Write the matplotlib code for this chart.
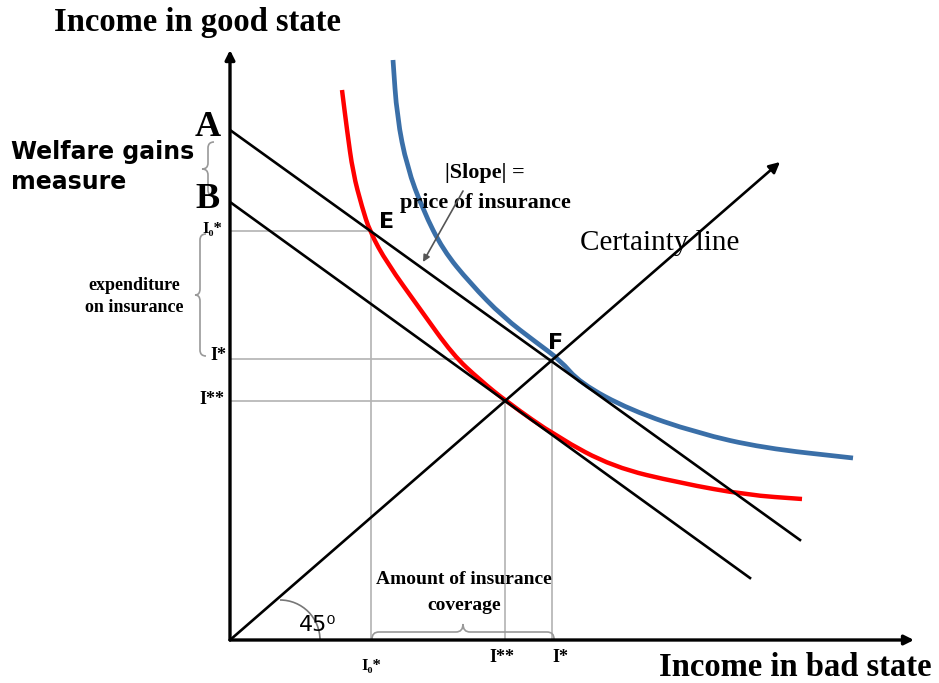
import numpy as np
import matplotlib
matplotlib.use("Agg")
import matplotlib.pyplot as plt
from matplotlib.path import Path
from matplotlib.patches import PathPatch, Arc

# ---- data (income in bad state x, income in good state y) ----
budget_A_x = [0, 570]
budget_A_y = [510, 100]
budget_B_x = [0, 520]
budget_B_y = [438, 62]
certainty_x = [0, 550]
certainty_y = [0, 478]

red_x = [112, 117, 123, 132, 140, 157, 190, 223, 250, 277, 327, 383, 450, 517, 572]
red_y = [550, 510, 467, 433, 408, 377, 331, 285, 260, 238, 203, 173, 157, 145, 141]
blue_x = [163, 167, 177, 193, 213, 240, 273, 307, 330, 350, 400, 467, 533, 623]
blue_y = [580, 523, 473, 430, 390, 357, 323, 297, 280, 257, 230, 207, 192, 182]

point_E = (141, 409)
point_F = (322, 281)
point_G = (275, 239)

xtick_labels = ["I\u2080*", "I**", "I*"]
ytick_labels = ["I\u2080*", "I*", "I**"]

SERIF = "Liberation Serif"
SANS = "DejaVu Sans"

fig = plt.figure(figsize=(9.39, 6.83), dpi=100)
ax = fig.add_axes([230 / 939, 43 / 683, 700 / 939, 600 / 683])
ax.set_xlim(0, 700)
ax.set_ylim(0, 600)
ax.axis("off")


def smooth_line(xs, ys, color, lw):
    pts = list(zip(xs, ys))
    verts = [pts[0]]
    codes = [Path.MOVETO]
    m = ((pts[0][0] + pts[1][0]) / 2, (pts[0][1] + pts[1][1]) / 2)
    verts.append(m)
    codes.append(Path.LINETO)
    for i in range(1, len(pts) - 1):
        m = ((pts[i][0] + pts[i + 1][0]) / 2, (pts[i][1] + pts[i + 1][1]) / 2)
        verts += [pts[i], m]
        codes += [Path.CURVE3, Path.CURVE3]
    verts.append(pts[-1])
    codes.append(Path.LINETO)
    ax.add_patch(PathPatch(Path(verts, codes), fill=False, edgecolor=color, lw=lw,
                           capstyle="butt", zorder=2))


grey = "#b3b3b3"
# grey guide lines
for (px, py) in [point_E, point_F, point_G]:
    ax.plot([0, px], [py, py], color=grey, lw=1.2, zorder=1)
    ax.plot([px, px], [0, py], color=grey, lw=1.2, zorder=1)

# indifference curves
smooth_line(red_x, red_y, "#ff0000", 3.2)
smooth_line(blue_x, blue_y, "#3a6fa8", 3.4)

# budget lines
ax.plot(budget_A_x, budget_A_y, color="black", lw=1.9, zorder=3)
ax.plot(budget_B_x, budget_B_y, color="black", lw=1.9, zorder=3)

# certainty line with arrow
ax.annotate("", xy=(certainty_x[1], certainty_y[1]), xytext=(certainty_x[0], certainty_y[0]),
            arrowprops=dict(arrowstyle="-|>", lw=1.9, color="black", mutation_scale=16,
                            shrinkA=0, shrinkB=0), zorder=3)

# axes arrows
ax.annotate("", xy=(0, 590), xytext=(0, 0), annotation_clip=False,
            arrowprops=dict(arrowstyle="-|>", lw=2.4, color="black", mutation_scale=14,
                            shrinkA=0, shrinkB=0))
ax.annotate("", xy=(684, 0), xytext=(0, 0), annotation_clip=False,
            arrowprops=dict(arrowstyle="-|>", lw=2.4, color="black", mutation_scale=14,
                            shrinkA=0, shrinkB=0))


def brace(p0, p1, normal, c, d, color="#999999", lw=1.2):
    p0 = np.array(p0, float)
    p1 = np.array(p1, float)
    L = np.linalg.norm(p1 - p0)
    u = (p1 - p0) / L
    n = np.array(normal, float)
    loc = [(0, 0), (0, c), (c, c), (L / 2 - c, c), (L / 2, c), (L / 2, c + d),
           (L / 2, c), (L / 2 + c, c), (L - c, c), (L, c), (L, 0)]
    codes = [Path.MOVETO, Path.CURVE3, Path.CURVE3, Path.LINETO, Path.CURVE3, Path.CURVE3,
             Path.CURVE3, Path.CURVE3, Path.LINETO, Path.CURVE3, Path.CURVE3]
    verts = [tuple(p0 + t * u + w * n) for t, w in loc]
    ax.add_patch(PathPatch(Path(verts, codes), fill=False, edgecolor=color, lw=lw,
                           clip_on=False))


brace((-16, 498), (-16, 444), (-1, 0), 6, 6)
brace((-24, 406), (-24, 284), (-1, 0), 6, 5)
brace((142, 1), (324, 1), (0, 1), 7, 8)

# 45 degree arc
ax.add_patch(Arc((50, 0), 80, 80, theta1=0, theta2=90, color="#777777", lw=1.2, clip_on=False))
ax.text(88, 15, "45\u2070", fontsize=16, family=SANS, ha="center", va="center")

# axis titles
ax.text(-32, 618, "Income in good state", fontsize=23.5, family=SERIF, weight="bold",
        ha="center", va="center", clip_on=False)
ax.text(565, -28, "Income in bad state", fontsize=23.5, family=SERIF, weight="bold",
        ha="center", va="center", clip_on=False)

# A, B
ax.text(-22, 512, "A", fontsize=26, family=SERIF, weight="bold", ha="center", va="center")
ax.text(-22, 440, "B", fontsize=26, family=SERIF, weight="bold", ha="center", va="center")
ax.text(-219, 488, "Welfare gains", fontsize=17, family=SANS, weight="heavy",
        ha="left", va="center")
ax.text(-219, 458, "measure", fontsize=17, family=SANS, weight="heavy",
        ha="left", va="center")

# y tick labels
ax.text(-8, point_E[1] + 2, ytick_labels[0], fontsize=12, family=SERIF, weight="bold",
        ha="right", va="center")
ax.text(-4, point_F[1] + 3, ytick_labels[1], fontsize=13, family=SERIF, weight="bold",
        ha="right", va="center")
ax.text(-6, point_G[1] + 2, ytick_labels[2], fontsize=13, family=SERIF, weight="bold",
        ha="right", va="center")

ax.text(-96, 355, "expenditure", fontsize=13, family=SERIF, weight="bold", ha="center",
        va="center")
ax.text(-96, 332, "on insurance", fontsize=13, family=SERIF, weight="bold", ha="center",
        va="center")

# x tick labels
ax.text(point_E[0], -26, xtick_labels[0], fontsize=12, family=SERIF, weight="bold",
        ha="center", va="center")
ax.text(point_G[0] - 3, -17, xtick_labels[1], fontsize=13, family=SERIF, weight="bold",
        ha="center", va="center")
ax.text(point_F[0] + 8, -17, xtick_labels[2], fontsize=13, family=SERIF, weight="bold",
        ha="center", va="center")

ax.text(234, 60, "Amount of insurance", fontsize=14, family=SERIF, weight="bold",
        ha="center", va="center")
ax.text(234, 35, "coverage", fontsize=14, family=SERIF, weight="bold",
        ha="center", va="center")

# point labels
ax.text(point_E[0] + 16, point_E[1] + 9, "E", fontsize=16, family=SANS, weight="bold",
        ha="center", va="center")
ax.text(point_F[0] + 4, point_F[1] + 16, "F", fontsize=16, family=SANS, weight="bold",
        ha="center", va="center")

# slope annotation
ax.text(255, 467, "|Slope| =", fontsize=16, family=SERIF, weight="bold", ha="center",
        va="center")
ax.text(255, 437, "price of insurance", fontsize=16, family=SERIF, weight="bold",
        ha="center", va="center")
ax.annotate("", xy=(193, 378), xytext=(233, 449),
            arrowprops=dict(arrowstyle="-|>", lw=1.2, color="#555555", mutation_scale=10,
                            shrinkA=0, shrinkB=0))

ax.text(350, 397, "Certainty line", fontsize=21, family=SERIF, ha="left", va="center")

fig.savefig("out.png", dpi=100, facecolor="white")
